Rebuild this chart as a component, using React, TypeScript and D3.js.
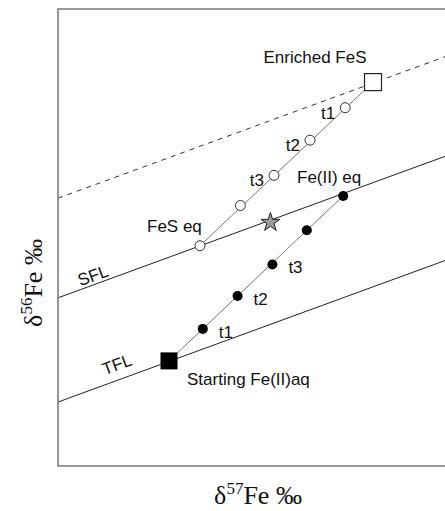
import React from 'react';
import * as d3 from 'd3';

// values in arbitrary delta units (x: d57Fe, y: d56Fe)
const fractionationLines = [
  { name: 'upper', intercept: 5.86, dashed: true },
  { name: 'SFL', intercept: 3.68, dashed: false },
  { name: 'TFL', intercept: 1.4, dashed: false },
];
const lineSlope = 0.32;

const startPoint = { x: 2.775, y: 2.3 };
const enrichedPoint = { x: 7.875, y: 8.4 };
const starPoint = { x: 5.31, y: 5.33 };

const fluidPoints = [
  { x: 3.62, y: 3.0, label: 't1' },
  { x: 4.49, y: 3.72, label: 't2' },
  { x: 5.36, y: 4.41, label: 't3' },
  { x: 6.22, y: 5.16, label: '' },
  { x: 7.13, y: 5.91, label: '' },
];
const solidPoints = [
  { x: 3.55, y: 4.82, label: '' },
  { x: 4.56, y: 5.7, label: '' },
  { x: 5.4, y: 6.36, label: 't3' },
  { x: 6.3, y: 7.13, label: 't2' },
  { x: 7.18, y: 7.84, label: 't1' },
];

const W = 445;
const H = 511;
const left = 58;
const right = 458;
const top = 9;
const bottom = 466;

const App: React.FC = () => {
  const x = d3.scaleLinear().domain([0, 10]).range([left, right]);
  const y = d3.scaleLinear().domain([0, 10]).range([bottom, top]);

  const lineGen = d3.line<{ x: number; y: number }>()
    .x(d => x(d.x))
    .y(d => y(d.y));

  const sans = '"Liberation Sans", Arial, sans-serif';
  const serif = '"Liberation Serif", "Times New Roman", serif';
  const ang = -Math.atan(lineSlope * 45.7 / 40) * 180 / Math.PI;

  const star = d3.symbol().type(d3.symbolStar).size(110)() as string;

  return (
    <svg width={W} height={H} style={{ position: 'absolute', left: 0, top: 0 }}>
      <defs>
        <clipPath id="plot">
          <rect x={left} y={top} width={right - left} height={bottom - top} />
        </clipPath>
      </defs>
      <rect x={0} y={0} width={W} height={H} fill="#fff" />

      <g clipPath="url(#plot)">
        {fractionationLines.map(l => (
          <path
            key={l.name}
            d={lineGen([
              { x: 0, y: l.intercept },
              { x: 10, y: l.intercept + lineSlope * 10 },
            ]) as string}
            stroke={l.dashed ? '#333' : '#222'}
            strokeWidth={1}
            strokeDasharray={l.dashed ? '5,5' : undefined}
            fill="none"
          />
        ))}
      </g>

      {/* reaction paths */}
      <path d={lineGen([startPoint, fluidPoints[fluidPoints.length - 1]]) as string}
        stroke="#777" strokeWidth={1} fill="none" />
      <path d={lineGen([solidPoints[0], enrichedPoint]) as string}
        stroke="#777" strokeWidth={1} fill="none" />

      {fluidPoints.map((p, i) => (
        <circle key={'f' + i} cx={x(p.x)} cy={y(p.y)} r={5} fill="#000" />
      ))}
      {solidPoints.map((p, i) => (
        <circle key={'s' + i} cx={x(p.x)} cy={y(p.y)} r={5} fill="#fff" stroke="#333" strokeWidth={1} />
      ))}

      <rect x={x(startPoint.x) - 8.5} y={y(startPoint.y) - 8.5} width={17} height={17} fill="#000" />
      <rect x={x(enrichedPoint.x) - 8.5} y={y(enrichedPoint.y) - 8.5} width={17} height={17}
        fill="#fff" stroke="#222" strokeWidth={1.2} />
      <path d={star} transform={`translate(${x(starPoint.x)},${y(starPoint.y)})`}
        fill="#9a9a9a" stroke="#222" strokeWidth={1} />

      {/* frame */}
      <rect x={left} y={top} width={right - left} height={bottom - top}
        fill="none" stroke="#777" strokeWidth={1.5} />

      <g fontFamily={sans} fontSize={17} fill="#111">
        {fluidPoints.filter(p => p.label).map(p => (
          <text key={'fl' + p.label} x={x(p.x) + 16} y={y(p.y) + 9}>{p.label}</text>
        ))}
        {solidPoints.filter(p => p.label).map(p => (
          <text key={'sl' + p.label} x={x(p.x) - 10} y={y(p.y) + 11} textAnchor="end">{p.label}</text>
        ))}
        <text x={315} y={63} textAnchor="middle">Enriched FeS</text>
        <text x={187} y={385}>Starting Fe(II)aq</text>
        <text x={297} y={183}>Fe(II) eq</text>
        <text x={147} y={232}>FeS eq</text>
        <text transform={`translate(95,281) rotate(${ang})`} textAnchor="middle">SFL</text>
        <text transform={`translate(119,370) rotate(${ang})`} textAnchor="middle">TFL</text>
      </g>

      <g fontFamily={serif} fontSize={26} fill="#111">
        <text x={258} y={504} textAnchor="middle">
          δ<tspan fontSize={17} dy={-10}>57</tspan><tspan dy={10}>Fe ‰</tspan>
        </text>
        <text transform="translate(42,283) rotate(-90)" textAnchor="middle">
          δ<tspan fontSize={17} dy={-10}>56</tspan><tspan dy={10}>Fe ‰</tspan>
        </text>
      </g>
    </svg>
  );
};

export default App;
